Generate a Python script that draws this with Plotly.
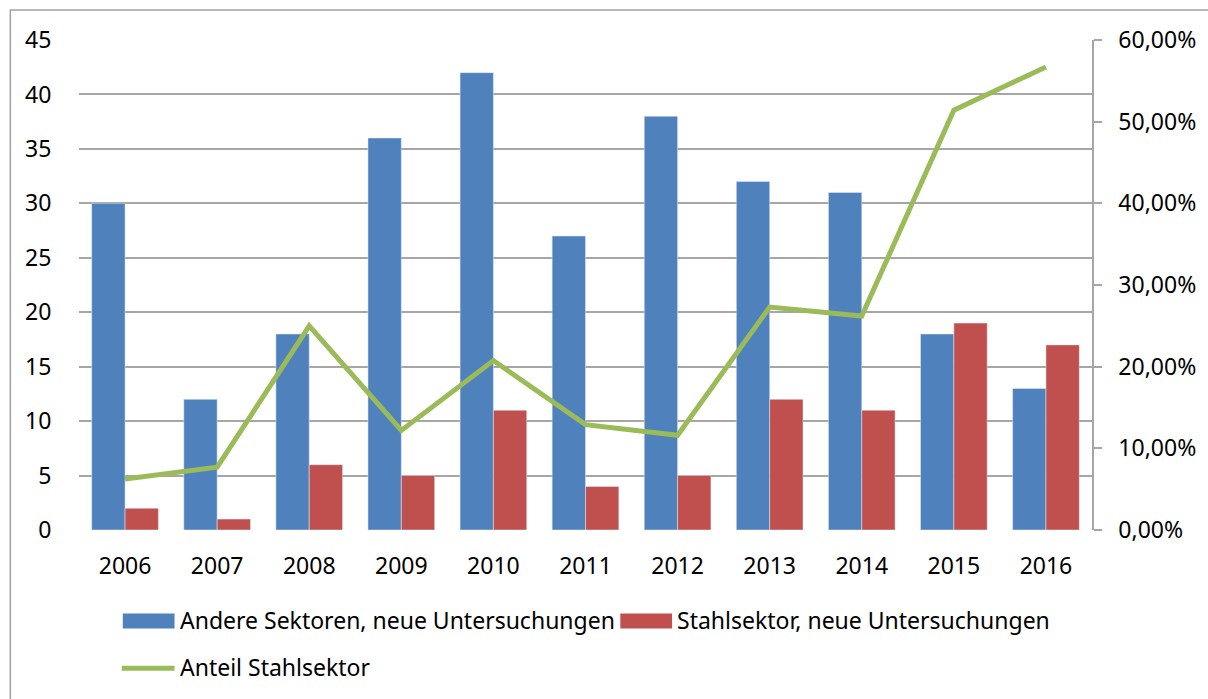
import plotly.graph_objects as go

years = ["2006", "2007", "2008", "2009", "2010", "2011", "2012", "2013", "2014", "2015", "2016"]
andere = [30, 12, 18, 36, 42, 27, 38, 32, 31, 18, 13]
stahl = [2, 1, 6, 5, 11, 4, 5, 12, 11, 19, 17]
anteil = [0.0625, 0.0769, 0.25, 0.122, 0.2075, 0.129, 0.116, 0.273, 0.262, 0.514, 0.567]

name_andere = "Andere Sektoren, neue Untersuchungen"
name_stahl = "Stahlsektor, neue Untersuchungen"
name_anteil = "Anteil Stahlsektor"

c_blue = "#4F81BD"
c_red = "#C0504D"
c_green = "#9BBB59"
grid = "#A6A6A6"
FONT = "Noto Sans"
FS = 23
TFS = 23

W, H = 1208, 699
L, R, T, B = 79, 1097, 40, 530.5

def px(x):
    return (x - L) / (R - L)

def py(y):
    return (B - y) / (B - T)

fig = go.Figure()
fig.add_trace(go.Bar(x=years, y=andere, name=name_andere, marker=dict(color=c_blue), showlegend=False))
fig.add_trace(go.Bar(x=years, y=stahl, name=name_stahl, marker=dict(color=c_red), showlegend=False))
fig.add_trace(go.Scatter(x=years, y=anteil, name=name_anteil, yaxis="y2", mode="lines",
                         line=dict(color=c_green, width=5), showlegend=False))

shapes = [
    # outer frame
    dict(type="rect", xref="paper", yref="paper", x0=px(10), x1=px(1230), y0=py(720), y1=py(10),
         line=dict(color="#A0A0A0", width=1.5), fillcolor="rgba(0,0,0,0)", layer="below"),
    # legend symbols
    dict(type="rect", xref="paper", yref="paper", x0=px(123), x1=px(175), y0=py(629), y1=py(614),
         line=dict(width=0), fillcolor=c_blue),
    dict(type="rect", xref="paper", yref="paper", x0=px(623), x1=px(675), y0=py(629), y1=py(614),
         line=dict(width=0), fillcolor=c_red),
    dict(type="line", xref="paper", yref="paper", x0=px(122), x1=px(175), y0=py(669), y1=py(669),
         line=dict(color=c_green, width=5)),
]

annotations = [
    dict(text=name_andere, xref="paper", yref="paper", x=px(178), y=py(621), xanchor="left", yanchor="middle",
         showarrow=False, font=dict(family=FONT, size=FS, color="#000000")),
    dict(text=name_stahl, xref="paper", yref="paper", x=px(678), y=py(621), xanchor="left", yanchor="middle",
         showarrow=False, font=dict(family=FONT, size=FS, color="#000000")),
    dict(text=name_anteil, xref="paper", yref="paper", x=px(178), y=py(668), xanchor="left", yanchor="middle",
         showarrow=False, font=dict(family=FONT, size=FS, color="#000000")),
]

fig.update_layout(
    width=W, height=H,
    margin=dict(l=L, r=W - R, t=T, b=H - B, pad=0),
    paper_bgcolor="white", plot_bgcolor="white",
    barmode="group", bargap=0.276, bargroupgap=0,
    separators=",.",
    font=dict(family=FONT, size=FS, color="#000000"),
    xaxis=dict(showgrid=False, showline=False, zeroline=False, ticks="outside", ticklen=15,
               tickcolor="rgba(0,0,0,0)", tickfont=dict(size=TFS)),
    yaxis=dict(range=[0, 45], dtick=5, showgrid=True, gridcolor=grid, gridwidth=1.5,
               zeroline=False, showline=False, ticks="outside", ticklen=22, tickcolor="rgba(0,0,0,0)",
               tickfont=dict(size=TFS)),
    yaxis2=dict(range=[0, 0.6], dtick=0.1, overlaying="y", side="right", tickformat=".2%",
                showgrid=False, zeroline=False, showline=True, linecolor=grid, linewidth=1.5,
                ticks="outside", ticklen=8, tickcolor=grid, tickwidth=1.5, ticklabelstandoff=12,
                tickfont=dict(size=TFS)),
    shapes=shapes,
    annotations=annotations,
)

fig.write_html("out.html",
               config={"displayModeBar": False},
               post_script="document.body.style.margin='0';document.body.style.overflow='hidden';")
